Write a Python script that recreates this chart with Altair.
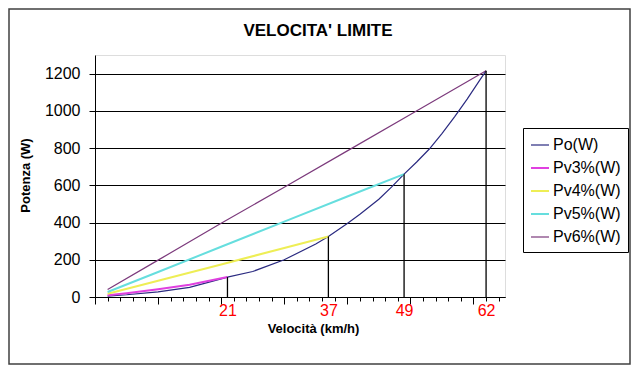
import altair as alt
import pandas as pd

# ---- data ----
speeds_po = [2, 5, 10, 15, 20, 21, 25, 30, 35, 37, 40, 42, 45, 47, 49, 51, 53, 55, 57, 59, 61, 62]
po_w = [5, 12, 28, 52, 97, 107, 137, 200, 285, 325, 395, 445, 525, 590, 660, 725, 795, 878,
        968, 1063, 1165, 1215]
speeds_pv3 = [2, 5, 10, 15, 21]
pv3_w = [9, 20, 42, 66, 107]
speeds_pv4 = [2, 10, 20, 30, 37]
pv4_w = [17, 87, 175, 263, 325]
speeds_pv5 = [2, 10, 20, 30, 40, 49]
pv5_w = [27, 134, 270, 405, 540, 660]
speeds_pv6 = [2, 10, 20, 30, 40, 50, 62]
pv6_w = [40, 198, 396, 590, 785, 980, 1215]

series_names = ["Po(W)", "Pv3%(W)", "Pv4%(W)", "Pv5%(W)", "Pv6%(W)"]
series_colors = ["#2a2a80", "#e040e0", "#eeee55", "#66dede", "#7c3a7c"]
series_widths = [1.2, 2, 2, 2, 1.2]
limit_speeds = [21, 37, 49, 62]
y_ticks = [0, 200, 400, 600, 800, 1000, 1200]
chart_title = "VELOCITA' LIMITE"

FONT = "Liberation Sans"

rows = []
for name, xs, ys in zip(series_names,
                        [speeds_po, speeds_pv3, speeds_pv4, speeds_pv5, speeds_pv6],
                        [po_w, pv3_w, pv4_w, pv5_w, pv6_w]):
    for v, p in zip(xs, ys):
        rows.append({"serie": name, "v": v, "p": p})
df = pd.DataFrame(rows)

po_lookup = dict(zip(speeds_po, po_w))
df_lim = pd.DataFrame({"v": limit_speeds, "p0": [0] * len(limit_speeds),
                       "p": [po_lookup[v] for v in limit_speeds]})

x_values = sorted(set(list(range(0, 65, 2)) + limit_speeds))
lbl_test = "datum.value==21||datum.value==37||datum.value==49||datum.value==62"

x_axis = alt.Axis(
    values=x_values,
    labelExpr=f"({lbl_test}) ? datum.label : ''",
    labelColor="#ff0000",
    labelFontSize=16,
    labelFont=FONT,
    labelPadding=1,
    labelOverlap=False,
    labelFlush=False,
    tickSize={"condition": {"test": "datum.value % 10 == 0", "value": 7}, "value": 4},
    tickOpacity={"condition": {"test": "datum.value==21||datum.value==37||datum.value==49",
                               "value": 0}, "value": 1},
    tickColor="#000000",
    domainColor="#000000",
    grid=False,
    title="Velocità (km/h)",
    titleFont=FONT,
    titleFontSize=13,
    titleFontWeight="bold",
    titleX=218,
    titleY=35,
    titleAlign="center",
    titleBaseline="alphabetic",
)
y_axis = alt.Axis(
    values=y_ticks,
    format="d",
    labelFontSize=16,
    labelFont=FONT,
    labelPadding=9,
    tickSize=6,
    tickColor="#000000",
    domainColor="#000000",
    gridColor="#000000",
    gridWidth=1,
    title="Potenza (W)",
    titleFont=FONT,
    titleFontSize=13,
    titleFontWeight="bold",
    titleAngle=270,
    titleX=-66,
    titleY=120,
    titleAlign="center",
    titleBaseline="alphabetic",
)

X = alt.X("v:Q", scale=alt.Scale(domain=[0, 65], nice=False, zero=False), axis=x_axis)
Y = alt.Y("p:Q", scale=alt.Scale(domain=[0, 1300], nice=False), axis=y_axis)

lines = alt.Chart(df).mark_line().encode(
    x=X,
    y=Y,
    color=alt.Color("serie:N",
                    scale=alt.Scale(domain=series_names, range=series_colors),
                    legend=alt.Legend(title=None, orient="none", legendX=428, legendY=73,
                                      direction="vertical", fillColor="white",
                                      strokeColor="#000000", padding=7,
                                      symbolType="stroke", symbolSize=324,
                                      symbolStrokeWidth=1.6, labelFont=FONT,
                                      labelFontSize=16, labelOffset=3,
                                      rowPadding=5, labelColor="#000000")),
    strokeWidth=alt.StrokeWidth("serie:N",
                                scale=alt.Scale(type="ordinal", domain=series_names,
                                                range=series_widths),
                                legend=None),
    order=alt.Order("v:Q"),
)

rules = alt.Chart(df_lim).mark_rule(color="#000000", strokeWidth=1.3).encode(
    x=X,
    y=alt.Y("p0:Q", scale=alt.Scale(domain=[0, 1300], nice=False), axis=y_axis),
    y2="p:Q",
)

frame = alt.Chart(pd.DataFrame({"a": [0]})).mark_rect(
    fill="transparent", stroke="#404040", strokeWidth=1.5
).encode(
    x=alt.value(-86), x2=alt.value(535), y=alt.value(-46), y2=alt.value(309)
)

title_txt = alt.Chart(pd.DataFrame({"t": [chart_title]})).mark_text(
    font=FONT, fontSize=17, fontWeight="bold", color="#000000",
    align="center", baseline="alphabetic"
).encode(
    text="t:N", x=alt.value(223), y=alt.value(-19)
)

chart = alt.layer(frame, lines, rules, title_txt).properties(
    width=410,
    height=242,
    autosize=alt.AutoSizeParams(type="none"),
    padding={"left": 87, "top": 47, "right": 126, "bottom": 68},
    background="white",
).configure_view(
    fill="#c0c0c0", stroke="#808080", strokeWidth=1
).configure(font=FONT)

chart.save("out.html", embed_options={"renderer": "svg", "actions": False})
